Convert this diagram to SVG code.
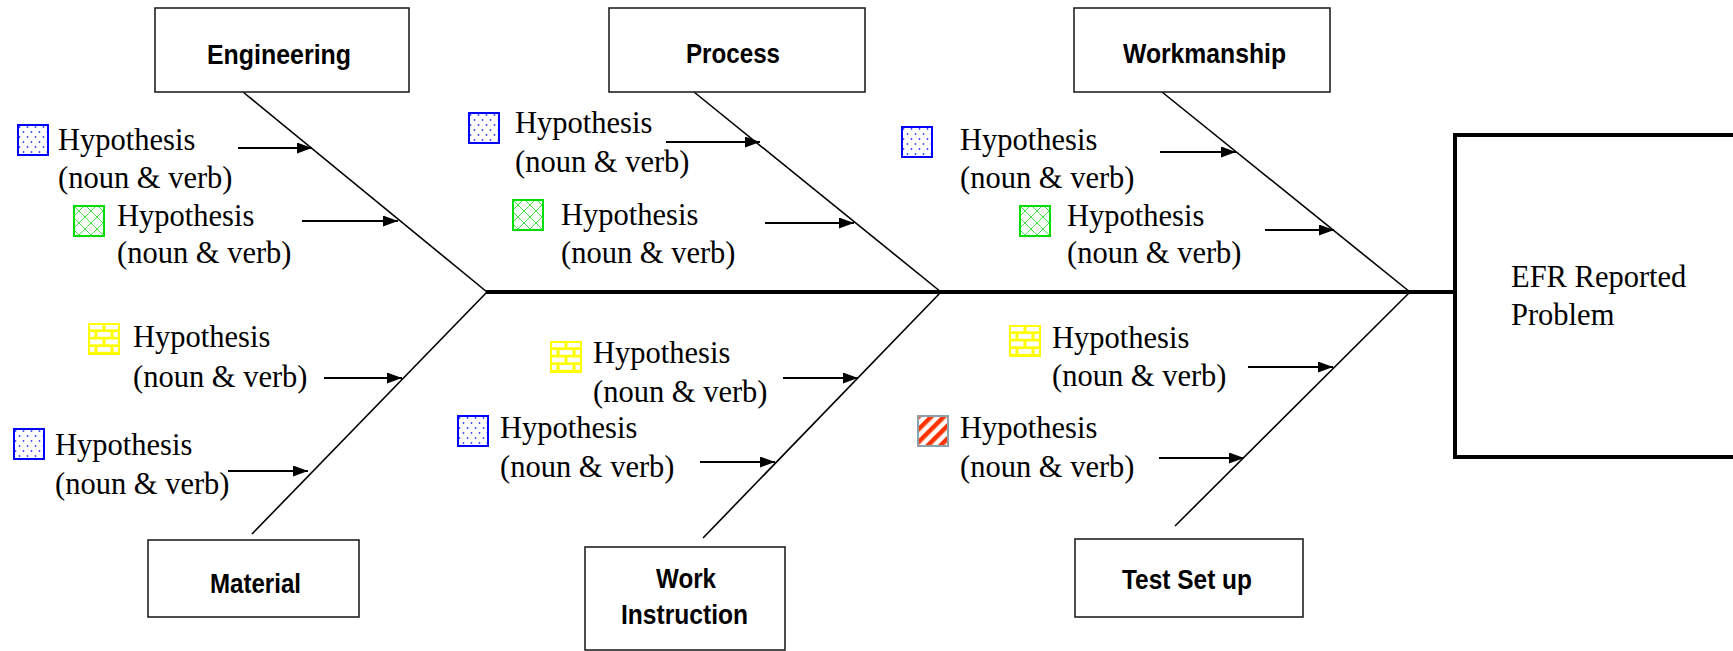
<svg xmlns="http://www.w3.org/2000/svg" width="1733" height="651" viewBox="0 0 1733 651">
<style>
.box{fill:#fff;stroke:#222;stroke-width:1.6}
.big{fill:#fff;stroke:#000;stroke-width:4}
.lbl{font-family:"Liberation Sans",Arial,sans-serif;font-weight:bold;font-size:28px;fill:#000}
.hyp{font-family:"Liberation Serif","Times New Roman",serif;font-size:30.5px;fill:#000}
.bone{stroke:#000;stroke-width:1.6;fill:none}
.spine{stroke:#000;stroke-width:4;fill:none}
.arr{stroke:#000;stroke-width:2;fill:none;marker-end:url(#ah)}
</style>
<defs>
<marker id="ah" markerUnits="userSpaceOnUse" markerWidth="15" markerHeight="11" refX="15" refY="5.5" orient="auto">
<path d="M0,0 L15,5.5 L0,11 Z" fill="#000"/>
</marker>
<pattern id="pDots" patternUnits="userSpaceOnUse" width="8" height="10">
<rect width="8" height="10" fill="#fff"/>
<circle cx="2.5" cy="3" r="0.9" fill="#3344ff"/>
<circle cx="6.5" cy="8" r="0.9" fill="#3344ff"/>
</pattern>
<pattern id="pCross" patternUnits="userSpaceOnUse" width="12" height="12">
<rect width="12" height="12" fill="#fff"/>
<path d="M0,0 L12,12 M12,0 L0,12" stroke="#44dd44" stroke-width="1"/>
</pattern>
<pattern id="pBrick" patternUnits="userSpaceOnUse" width="16" height="15">
<rect width="16" height="15" fill="#ffff00"/>
<rect x="1.5" y="1.5" width="13" height="4.8" fill="#fff"/>
<rect x="9.5" y="9" width="13" height="4.8" fill="#fff"/>
<rect x="-6.5" y="9" width="13" height="4.8" fill="#fff"/>
</pattern>
<pattern id="pStripe" patternUnits="userSpaceOnUse" width="9" height="9" patternTransform="rotate(45)">
<rect width="9" height="9" fill="#fff"/>
<rect width="4.5" height="9" fill="#ff3300"/>
</pattern>
<symbol id="iDots" viewBox="0 0 32 32" width="32" height="32" overflow="visible">
<rect x="1" y="1" width="30" height="30" fill="url(#pDots)" stroke="#0000ff" stroke-width="2"/>
</symbol>
<symbol id="iCross" viewBox="0 0 32 32" width="32" height="32" overflow="visible">
<rect x="1" y="1" width="30" height="30" fill="url(#pCross)" stroke="#00dd00" stroke-width="2"/>
</symbol>
<symbol id="iBrick" viewBox="0 0 32 32" width="32" height="32" overflow="visible">
<rect x="1" y="1" width="30" height="30" fill="url(#pBrick)" stroke="#ffff00" stroke-width="2"/>
</symbol>
<symbol id="iStripe" viewBox="0 0 32 32" width="32" height="32" overflow="visible">
<rect x="1" y="1" width="30" height="30" fill="url(#pStripe)" stroke="#8ca2ac" stroke-width="2"/>
</symbol>
</defs>
<rect width="1733" height="651" fill="#fff"/>

<g id="connectors">
<line class="spine" x1="486" y1="292" x2="1455" y2="292"/>
<line class="bone" x1="243" y1="92" x2="487" y2="292"/>
<line class="bone" x1="694" y1="92" x2="941" y2="292"/>
<line class="bone" x1="1162" y1="92" x2="1410" y2="292"/>
<line class="bone" x1="252" y1="534" x2="487" y2="292"/>
<line class="bone" x1="703" y1="538" x2="941" y2="292"/>
<line class="bone" x1="1175" y1="526" x2="1410" y2="292"/>
<line class="arr" x1="238" y1="148" x2="312" y2="148"/>
<line class="arr" x1="302" y1="221" x2="398" y2="221"/>
<line class="arr" x1="666" y1="142" x2="760" y2="142"/>
<line class="arr" x1="765" y1="223" x2="854" y2="223"/>
<line class="arr" x1="1160" y1="152" x2="1236" y2="152"/>
<line class="arr" x1="1265" y1="230" x2="1334" y2="230"/>
<line class="arr" x1="324" y1="378" x2="402" y2="378"/>
<line class="arr" x1="228" y1="471" x2="308" y2="471"/>
<line class="arr" x1="783" y1="378" x2="858" y2="378"/>
<line class="arr" x1="700" y1="462" x2="775" y2="462"/>
<line class="arr" x1="1248" y1="367" x2="1333" y2="367"/>
<line class="arr" x1="1159" y1="458" x2="1244" y2="458"/>
</g>

<g id="engineering">
<rect class="box" x="155" y="8" width="254" height="84"/>
<text class="lbl" x="207" y="64" textLength="144" lengthAdjust="spacingAndGlyphs">Engineering</text>
</g>
<g id="process">
<rect class="box" x="609" y="8" width="256" height="84"/>
<text class="lbl" x="686" y="63" textLength="94" lengthAdjust="spacingAndGlyphs">Process</text>
</g>
<g id="workmanship">
<rect class="box" x="1074" y="8" width="256" height="84"/>
<text class="lbl" x="1123" y="63" textLength="163" lengthAdjust="spacingAndGlyphs">Workmanship</text>
</g>
<g id="material">
<rect class="box" x="148" y="540" width="211" height="77"/>
<text class="lbl" x="210" y="593" textLength="91" lengthAdjust="spacingAndGlyphs">Material</text>
</g>
<g id="work-instruction">
<rect class="box" x="585" y="547" width="200" height="103"/>
<text class="lbl" x="656" y="588" textLength="60" lengthAdjust="spacingAndGlyphs">Work</text>
<text class="lbl" x="621" y="624" textLength="127" lengthAdjust="spacingAndGlyphs">Instruction</text>
</g>
<g id="test-set-up">
<rect class="box" x="1075" y="539" width="228" height="78"/>
<text class="lbl" x="1122" y="589" textLength="130" lengthAdjust="spacingAndGlyphs">Test Set up</text>
</g>
<g id="efr-problem">
<rect class="big" x="1455" y="135" width="300" height="322"/>
<text class="hyp" x="1511" y="287">EFR Reported</text>
<text class="hyp" x="1511" y="325">Problem</text>
</g>

<g id="hyp-eng-1"><use href="#iDots" x="17" y="124"/><text class="hyp" x="58" y="150">Hypothesis</text><text class="hyp" x="58" y="188">(noun &amp; verb)</text></g>
<g id="hyp-eng-2"><use href="#iCross" x="73" y="205"/><text class="hyp" x="117" y="226">Hypothesis</text><text class="hyp" x="117" y="263">(noun &amp; verb)</text></g>
<g id="hyp-proc-1"><use href="#iDots" x="468" y="112"/><text class="hyp" x="515" y="133">Hypothesis</text><text class="hyp" x="515" y="172">(noun &amp; verb)</text></g>
<g id="hyp-proc-2"><use href="#iCross" x="512" y="199"/><text class="hyp" x="561" y="225">Hypothesis</text><text class="hyp" x="561" y="263">(noun &amp; verb)</text></g>
<g id="hyp-work-1"><use href="#iDots" x="901" y="126"/><text class="hyp" x="960" y="150">Hypothesis</text><text class="hyp" x="960" y="188">(noun &amp; verb)</text></g>
<g id="hyp-work-2"><use href="#iCross" x="1019" y="205"/><text class="hyp" x="1067" y="226">Hypothesis</text><text class="hyp" x="1067" y="263">(noun &amp; verb)</text></g>
<g id="hyp-mat-1"><use href="#iBrick" x="88" y="323"/><text class="hyp" x="133" y="347">Hypothesis</text><text class="hyp" x="133" y="387">(noun &amp; verb)</text></g>
<g id="hyp-mat-2"><use href="#iDots" x="13" y="428"/><text class="hyp" x="55" y="455">Hypothesis</text><text class="hyp" x="55" y="494">(noun &amp; verb)</text></g>
<g id="hyp-wi-1"><use href="#iBrick" x="550" y="341"/><text class="hyp" x="593" y="363">Hypothesis</text><text class="hyp" x="593" y="402">(noun &amp; verb)</text></g>
<g id="hyp-wi-2"><use href="#iDots" x="457" y="415"/><text class="hyp" x="500" y="438">Hypothesis</text><text class="hyp" x="500" y="477">(noun &amp; verb)</text></g>
<g id="hyp-tsu-1"><use href="#iBrick" x="1009" y="325"/><text class="hyp" x="1052" y="348">Hypothesis</text><text class="hyp" x="1052" y="386">(noun &amp; verb)</text></g>
<g id="hyp-tsu-2"><use href="#iStripe" x="917" y="415"/><text class="hyp" x="960" y="438">Hypothesis</text><text class="hyp" x="960" y="477">(noun &amp; verb)</text></g>
</svg>
